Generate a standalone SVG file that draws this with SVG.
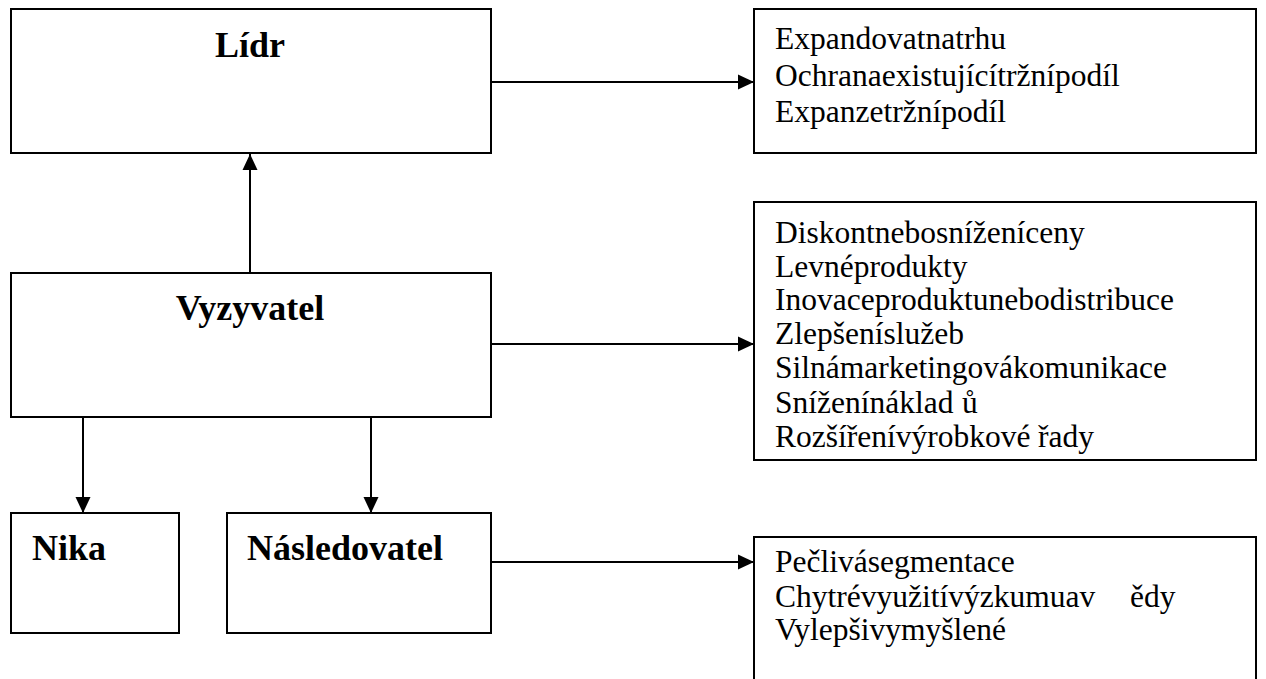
<svg xmlns="http://www.w3.org/2000/svg" width="1266" height="679" viewBox="0 0 1266 679">
<style>
.box{fill:#fff;stroke:#000;stroke-width:2}
.title{font-family:"Liberation Serif","Times New Roman",serif;font-weight:bold;font-size:36px;fill:#000}
.item{font-family:"Liberation Serif","Times New Roman",serif;font-size:31.5px;fill:#000}
.conn{stroke:#000;stroke-width:2;fill:none;marker-end:url(#ah)}
</style>
<defs>
<marker id="ah" markerUnits="userSpaceOnUse" markerWidth="16" markerHeight="16" viewBox="0 0 16 16" refX="16" refY="8" orient="auto">
<path d="M0,0.5 L16,8 L0,15.5 Z" fill="#000"/>
</marker>
</defs>
<rect width="1266" height="679" fill="#fff"/>
<g id="connectors">
<path class="conn" d="M250,273 V154"/>
<path class="conn" d="M491,82 H754"/>
<path class="conn" d="M491,344 H754"/>
<path class="conn" d="M83,417 V513"/>
<path class="conn" d="M371,417 V513"/>
<path class="conn" d="M491,562 H754"/>
</g>
<g id="lidr">
<rect class="box" x="11" y="9" width="480" height="144"/>
<text class="title" x="250" y="57" text-anchor="middle">Lídr</text>
</g>
<g id="lidr-strategies">
<rect class="box" x="754" y="9" width="502" height="144"/>
<text class="item" x="775" y="49">Expandovatnatrhu</text>
<text class="item" x="775" y="86">Ochranaexistujícítržnípodíl</text>
<text class="item" x="775" y="122">Expanzetržnípodíl</text>
</g>
<g id="vyzyvatel">
<rect class="box" x="11" y="273" width="480" height="144"/>
<text class="title" x="250" y="320" text-anchor="middle">Vyzyvatel</text>
</g>
<g id="vyzyvatel-strategies">
<rect class="box" x="754" y="202" width="502" height="258"/>
<text class="item" x="775" y="243">Diskontnebosníženíceny</text>
<text class="item" x="775" y="277">Levnéprodukty</text>
<text class="item" x="775" y="310">Inovaceproduktunebodistribuce</text>
<text class="item" x="775" y="344">Zlepšeníslužeb</text>
<text class="item" x="775" y="378">Silnámarketingovákomunikace</text>
<text class="item" x="775" y="413">Sníženínáklad<tspan x="962">ů</tspan></text>
<text class="item" x="775" y="447">Rozšířenívýrobkové<tspan x="1038">řady</tspan></text>
</g>
<g id="nika">
<rect class="box" x="11" y="513" width="168" height="120"/>
<text class="title" x="32" y="560">Nika</text>
</g>
<g id="nasledovatel">
<rect class="box" x="227" y="513" width="264" height="120"/>
<text class="title" x="247" y="560">Následovatel</text>
</g>
<g id="nasledovatel-strategies">
<rect class="box" x="754" y="537" width="502" height="160"/>
<text class="item" x="775" y="572">Pečlivásegmentace</text>
<text class="item" x="775" y="607">Chytrévyužitívýzkumuav<tspan x="1130">ědy</tspan></text>
<text class="item" x="775" y="640">Vylepšivymyšlené</text>
</g>
</svg>
